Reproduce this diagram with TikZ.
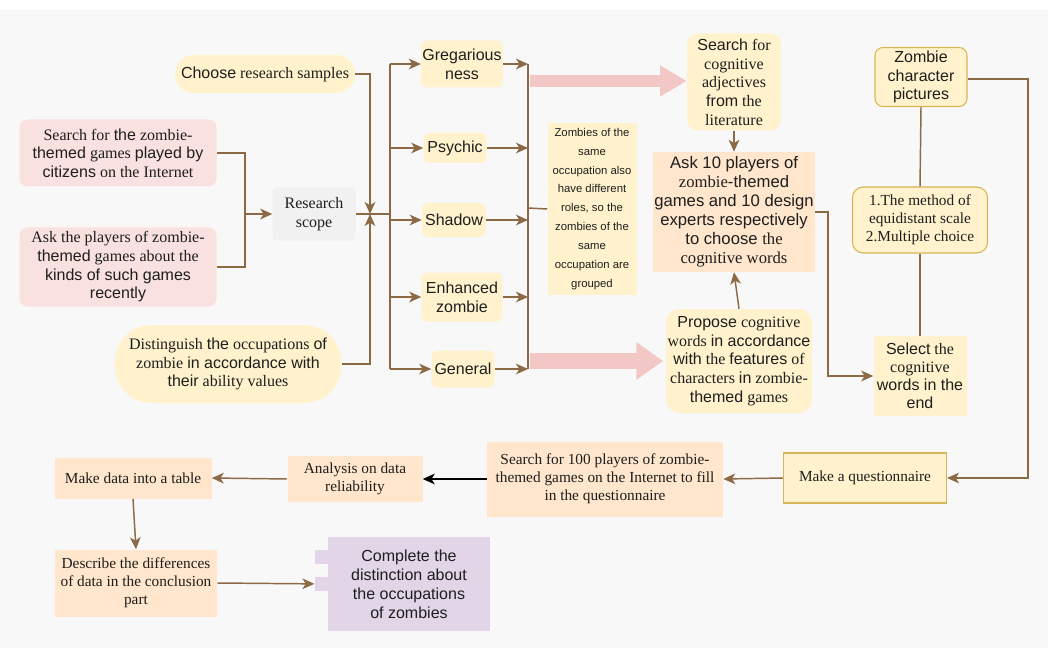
\documentclass[tikz,border=0pt]{standalone}
\usepackage{fontspec}
\setmainfont{Liberation Serif}
\setsansfont{Liberation Sans}
\usetikzlibrary{arrows.meta}
\newcommand\A[1]{{\sffamily #1}}
\definecolor{bgc}{HTML}{F8F8F8}
\definecolor{txt}{HTML}{1E1E1E}
\definecolor{ln}{HTML}{8C6A46}
\definecolor{pinkf}{HTML}{F8E1DF}
\definecolor{yelf}{HTML}{FFF2CC}
\definecolor{yeld}{HTML}{D6B656}
\definecolor{peachf}{HTML}{FFE6CC}
\definecolor{grayf}{HTML}{F1F1F1}
\definecolor{purf}{HTML}{E1D5E7}
\definecolor{pinka}{HTML}{F4C7C7}
\tikzset{
  base/.style={inner sep=1pt, align=center, text=txt, font=\rmfamily\fontsize{12}{14}\selectfont},
  sz/.style 2 args={minimum width={#1*0.75pt}, minimum height={#2*0.75pt}},
  pinkbox/.style={base, fill=pinkf, rounded corners=6pt},
  yelbox/.style={base, fill=yelf, rounded corners=4pt},
  yelsq/.style={base, fill=yelf},
  yelbd/.style={base, fill=yelf, draw=yeld, line width=0.8pt, rounded corners=6pt},
  peachbox/.style={base, fill=peachf},
  graybox/.style={base, fill=grayf, rounded corners=3pt},
  purbox/.style={base, fill=purf},
  small/.style={font=\rmfamily\fontsize{11.5}{13.5}\selectfont},
  cat/.style={yelbox, font=\sffamily\fontsize{12}{14}\selectfont},
  ln/.style={draw=ln, line width=1.1pt},
  arr/.style={ln, -{Stealth[length=9pt,width=8pt,inset=2.5pt]}},
  blk/.style={draw=black, line width=1.1pt, -{Stealth[length=9pt,width=8pt,inset=2.5pt]}},
  fat/.style 2 args={draw=pinka, line width=#1, -{Triangle[length=20pt,width=#2]}},
}
\begin{document}
\begin{tikzpicture}[x=0.75pt,y=-0.75pt]
\useasboundingbox (0,0) rectangle (1048,652);
\fill[white] (0,0) rectangle (1048,652);
\fill[bgc] (0,10) rectangle (1048,648);

% left column
\node[yelbox, rounded corners=14pt, sz={180}{38}] (samples) at (265,74) {\A{Choose} research samples};
\node[pinkbox, sz={197}{67}] (searchgames) at (118,153) {Search for \A{the} zombie-\\\A{themed} games \A{played by}\\\A{citizens} on the Internet};
\node[pinkbox, sz={197}{79}] (askplayers) at (118,267) {Ask the players of zombie-\\\A{themed} games about the\\\A{kinds of such games}\\\A{recently}};
\node[yelbox, rounded corners=28pt, sz={227}{78}] (distinguish) at (228,364) {Distinguish \A{the} occupations \A{of}\\zombie \A{in accordance with}\\\A{their} ability values};
\node[graybox, sz={83}{53}] (scope) at (314,214) {Research\\scope};

% categories
\node[cat, sz={81}{47}] (greg) at (462,64) {Gregarious\\ness};
\node[cat, sz={63}{30}] (psychic) at (455,148) {Psychic};
\node[cat, sz={64}{34}] (shadow) at (454,220) {Shadow};
\node[cat, sz={81}{49}] (enh) at (462,297) {Enhanced\\zombie};
\node[cat, sz={63}{37}] (general) at (463,369) {General};

\node[yelsq, sz={89}{172}, font=\sffamily\fontsize{8.5}{14.2}\selectfont] (note) at (592,209) {Zombies of the\\same\\occupation also\\have different\\roles, so the\\zombies of the\\same\\occupation are\\grouped};

% middle right
\node[yelbox, rounded corners=8pt, sz={94}{97}] (searchcog) at (734,82) {\A{Search} for\\cognitive\\adjectives\\\A{from} the\\literature};
\node[peachbox, sz={157}{120}, font=\sffamily\fontsize{12.5}{14.3}\selectfont] (ask10) at (734,212) {Ask 10 players of\\{\rmfamily zombie}-themed\\games and 10 design\\experts respectively\\to choose {\rmfamily the}\\{\rmfamily cognitive words}};
\node[yelbox, rounded corners=10pt, sz={146}{104}] (propose) at (739,361) {\A{Propose} cognitive\\words \A{in accordance}\\\A{with} the \A{features} of\\characters \A{in} zombie-\\\A{themed} games};

% right column
\node[yelbd, sz={92}{59}, font=\sffamily\fontsize{12}{14}\selectfont] (zpics) at (921,77) {Zombie\\character\\pictures};
\node[yelbd, rounded corners=8pt, sz={135}{66}, small] (method) at (920,220) {1.The method of\\equidistant scale\\2.Multiple choice};
\node[yelsq, sz={93}{80}, font=\rmfamily\fontsize{12}{13.6}\selectfont] (select) at (920,376) {\A{Select} the\\cognitive\\\A{words in the}\\\A{end}};

% bottom row
\node[yelsq, draw=yeld, line width=0.8pt, sz={163}{50}, small] (makeq) at (865,478) {Make a questionnaire};
\node[peachbox, sz={236}{75}, small] (search100) at (605,479) {Search for 100 players of zombie-\\themed games on the Internet to fill\\in the questionnaire};
\node[peachbox, sz={135}{46}, small] (analysis) at (355,479) {Analysis on data\\reliability};
\node[peachbox, sz={157}{41}, small] (makedata) at (133,478) {Make data into a table};
\node[peachbox, sz={162}{67}, small] (describe) at (136,583) {Describe the differences\\of data in the conclusion\\part};
\fill[purf] (315,550) rectangle (329,564);
\fill[purf] (315,577) rectangle (329,591);
\node[purbox, sz={162}{94}, font=\sffamily\fontsize{12}{14.2}\selectfont] (complete) at (409,584) {Complete the\\distinction about\\the occupations\\of zombies};

% helper coordinates
\coordinate (J) at (370,214);
\coordinate (K) at (245,214);
\coordinate (B) at (390,214);
\coordinate (C) at (528,214);
\coordinate (D) at (828,214);
\coordinate (E) at (1028,214);

% connectors into research scope
\draw[arr] (samples.east) -| (J);
\draw[arr] (distinguish.east) -| (J);
\draw[ln] (searchgames.east) -| (K);
\draw[ln] (askplayers.east) -| (K);
\draw[arr] (K) -- (scope.west);
\draw[ln] (scope.east) -- (B);

% bus to categories
\draw[ln] (B |- greg.west) -- (B |- general.west);
\draw[arr] (B |- greg.west) -- (greg.west);
\draw[arr] (B |- psychic.west) -- (psychic.west);
\draw[arr] (B |- shadow.west) -- (shadow.west);
\draw[arr] (B |- enh.west) -- (enh.west);
\draw[arr] (B |- general.west) -- (general.west);

% categories to second bus
\draw[ln] (C |- greg.east) -- (C |- general.east);
\draw[arr] (greg.east) -- (C |- greg.east);
\draw[arr] (psychic.east) -- (C |- psychic.east);
\draw[arr] (shadow.east) -- (C |- shadow.east);
\draw[arr] (enh.east) -- (C |- enh.east);
\draw[arr] (general.east) -- (C |- general.east);
\draw[ln] (C |- note.west) ++(0,-1) -- (note.west);

% fat pink arrows
\draw[fat={9pt}{22pt}] ([xshift=1.5pt,yshift=0.75pt]C |- searchcog.west) -- ([yshift=0.75pt]searchcog.west);
\draw[fat={12pt}{27pt}] ([xshift=1.5pt]C |- propose.west) -- ([xshift=-2pt]propose.west);

% middle column
\draw[arr] (searchcog.south) -- (ask10.north);
\draw[arr] (propose.north) -- (ask10.south);
\draw[arr] (ask10.east) -- (ask10.east -| D) |- (select.west);

% right column
\draw[ln] (zpics.south) -- (method.north);
\draw[ln] (method.south) -- (select.north);
\draw[arr] ([yshift=-1.5pt]zpics.east) -- ([yshift=-1.5pt]zpics.east -| E) |- (makeq.east);

% bottom row
\draw[arr] (makeq.west) -- (search100.east);
\draw[blk] (search100.west) -- (analysis.east);
\draw[arr] (analysis.west) -- (makedata.east);
\draw[arr] (makedata.south) -- (describe.north);
\draw[arr, shorten >=10pt] (describe.east) -- (complete.west);
\end{tikzpicture}
\end{document}
